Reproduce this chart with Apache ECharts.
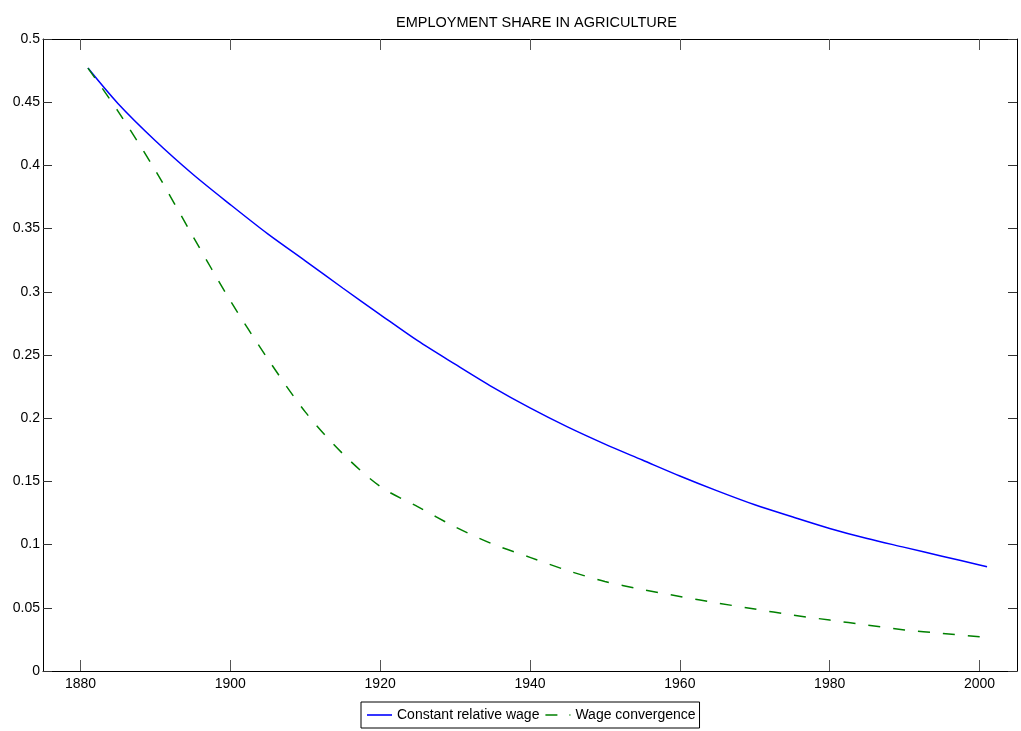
<!DOCTYPE html>
<html>
<head>
<meta charset="utf-8">
<script src="https://cdn.jsdelivr.net/npm/echarts@6/dist/echarts.min.js"></script>
<style>
  html, body { margin: 0; padding: 0; background: #fff; }
  #chart { width: 1021px; height: 731px; }
</style>
</head>
<body>
<div id="chart"></div>
<script>
const years = [1881, 1885, 1890, 1895, 1900, 1905, 1910, 1915, 1920, 1925, 1930, 1935, 1940, 1945, 1950, 1955, 1960, 1965, 1970, 1975, 1980, 1985, 1990, 1995, 2000, 2001];
const constantWage = [0.477, 0.449, 0.4195, 0.393, 0.369, 0.3458, 0.3245, 0.303, 0.282, 0.2613, 0.2427, 0.2246, 0.2081, 0.1931, 0.1795, 0.1669, 0.1543, 0.1425, 0.1315, 0.122, 0.1128, 0.1048, 0.0978, 0.0908, 0.0839, 0.0825];
const wageConvergence = [0.477, 0.443, 0.396, 0.344, 0.293, 0.247, 0.205, 0.172, 0.146, 0.130, 0.114, 0.1005, 0.0899, 0.0795, 0.0708, 0.0645, 0.059, 0.0538, 0.049, 0.0443, 0.0403, 0.0363, 0.0325, 0.0298, 0.0271, 0.0266];
const xTicks = [1880, 1900, 1920, 1940, 1960, 1980, 2000];
const seriesNames = ['Constant relative wage', 'Wage convergence'];
const titleText = 'EMPLOYMENT SHARE IN AGRICULTURE';

const FONT = '"Liberation Sans", Arial, sans-serif';

const chart = echarts.init(document.getElementById('chart'), null, { renderer: 'canvas' });

const pair = (arr) => years.map((y, i) => [y, arr[i]]);

const xBase = {
  type: 'value', min: 1875, max: 2005,
  splitLine: { show: false },
  axisLine: { show: true, onZero: false, lineStyle: { color: '#000', width: 1 } }
};
const yBase = {
  type: 'value', min: 0, max: 0.5, interval: 0.05,
  splitLine: { show: false },
  axisLine: { show: true, onZero: false, lineStyle: { color: '#000', width: 1 } }
};

chart.setOption({
  animation: false,
  backgroundColor: '#fff',
  title: {
    text: titleText,
    left: 391, top: 10,
    textStyle: { fontFamily: FONT, fontSize: 14.5, fontWeight: 'normal', color: '#000' }
  },
  grid: { left: 43, top: 39, right: 4, bottom: 60, containLabel: false },
  legend: {
    data: [
      { name: seriesNames[0], icon: 'path://M0,0H25V1.6H0Z' },
      { name: seriesNames[1], icon: 'path://M0,0H12V1.6H0Z M24,0H25V1.6H24Z' }
    ],
    left: 361, top: 702,
    orient: 'horizontal',
    padding: [6, 4, 6, 6],
    itemGap: 6,
    itemWidth: 25, itemHeight: 14,
    symbolKeepAspect: true,
    borderColor: '#000', borderWidth: 1, borderRadius: 0,
    backgroundColor: '#fff',
    textStyle: { fontFamily: FONT, fontSize: 14, color: '#000' }
  },
  xAxis: [
    Object.assign({}, xBase, {
      position: 'bottom',
      axisTick: { show: true, inside: true, length: 11, customValues: xTicks, lineStyle: { color: '#555' } },
      axisLabel: { show: true, customValues: xTicks, margin: 6, fontFamily: FONT, fontSize: 14, color: '#000',
                   formatter: (v) => String(v) }
    }),
    Object.assign({}, xBase, {
      position: 'top',
      axisTick: { show: true, inside: true, length: 11, customValues: xTicks, lineStyle: { color: '#555' } },
      axisLabel: { show: false }
    })
  ],
  yAxis: [
    Object.assign({}, yBase, {
      position: 'left',
      axisTick: { show: true, inside: true, length: 9, lineStyle: { color: '#333' } },
      axisLabel: { show: true, margin: 3, fontFamily: FONT, fontSize: 14, color: '#000' }
    }),
    Object.assign({}, yBase, {
      position: 'right',
      axisTick: { show: true, inside: true, length: 9, lineStyle: { color: '#333' } },
      axisLabel: { show: false }
    })
  ],
  series: [
    {
      name: seriesNames[0], type: 'line', xAxisIndex: 0, yAxisIndex: 0,
      data: pair(constantWage), smooth: 0.3,
      symbol: 'none', showSymbol: false,
      lineStyle: { color: '#0000ff', width: 1.5 },
      itemStyle: { color: '#0000ff' }
    },
    {
      name: seriesNames[1], type: 'line', xAxisIndex: 0, yAxisIndex: 0,
      data: pair(wageConvergence), smooth: 0.3,
      symbol: 'none', showSymbol: false,
      lineStyle: { color: '#008000', width: 1.5, type: [12, 13] },
      itemStyle: { color: '#008000' }
    }
  ]
});
</script>
</body>
</html>
